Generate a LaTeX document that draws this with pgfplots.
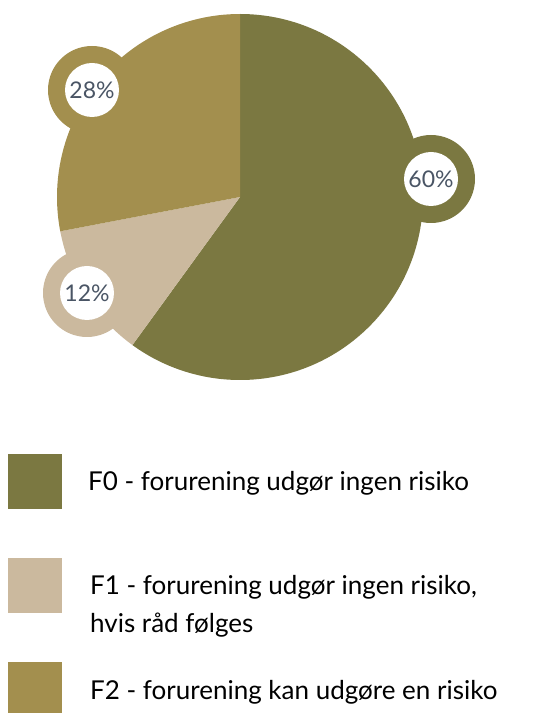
\documentclass[border=0pt]{standalone}
\usepackage{pgfplots}
\pgfplotsset{compat=1.18}
\usepackage{fontspec}
\setmainfont{Lato}
\definecolor{f0}{HTML}{7B7841}
\definecolor{f1}{HTML}{CBB99E}
\definecolor{f2}{HTML}{A38F4E}
\definecolor{lbl}{HTML}{4A5565}
% shares in percent
\def\vA{60}\def\vB{12}\def\vC{28}
\begin{document}
\begin{tikzpicture}
\pgfmathsetmacro\aA{90-3.6*\vA}
\pgfmathsetmacro\aB{\aA-3.6*\vB}
\pgfmathsetmacro\aC{\aB-3.6*\vC}
\begin{axis}[scale only axis, width=534pt, height=713pt,
  xmin=0, xmax=534, ymin=0, ymax=713, hide axis, clip=false]
\path (axis cs:0,0) rectangle (axis cs:534,713);
% pie slices
\fill[f0] (axis cs:240,516) -- ++(90:183pt) arc[start angle=90, end angle=\aA, radius=183pt] -- cycle;
\fill[f1] (axis cs:240,516) -- ++(\aA:183pt) arc[start angle=\aA, end angle=\aB, radius=183pt] -- cycle;
\fill[f2] (axis cs:240,516) -- ++(\aB:183pt) arc[start angle=\aB, end angle=\aC, radius=183pt] -- cycle;
% value badges
\fill[f0] (axis cs:431,534) circle[radius=44pt];
\fill[f1] (axis cs:87,420) circle[radius=44pt];
\fill[f2] (axis cs:92,623) circle[radius=44pt];
\fill[white] (axis cs:431,534) circle[radius=27pt];
\fill[white] (axis cs:87,420) circle[radius=27pt];
\fill[white] (axis cs:92,623) circle[radius=27pt];
\node[text=lbl, font=\fontsize{23}{27}\selectfont] at (axis cs:431,534) {\vA\%};
\node[text=lbl, font=\fontsize{23}{27}\selectfont] at (axis cs:87,420) {\vB\%};
\node[text=lbl, font=\fontsize{23}{27}\selectfont] at (axis cs:92,623) {\vC\%};
% legend
\fill[f0] (axis cs:8,204) rectangle (axis cs:62,259);
\fill[f1] (axis cs:8,100) rectangle (axis cs:62,155);
\fill[f2] (axis cs:8,0) rectangle (axis cs:62,51);
\node[anchor=base west, inner sep=0pt, font=\fontsize{26}{37.7}\selectfont] at (axis cs:88,222.3) {F0 - forurening udgør ingen risiko};
\node[anchor=base west, inner sep=0pt, font=\fontsize{26}{37.7}\selectfont] at (axis cs:90,118) {F1 - forurening udgør ingen risiko,};
\node[anchor=base west, inner sep=0pt, font=\fontsize{26}{37.7}\selectfont] at (axis cs:90,80.3) {hvis råd følges};
\node[anchor=base west, inner sep=0pt, font=\fontsize{26}{37.7}\selectfont] at (axis cs:90,13.7) {F2 - forurening kan udgøre en risiko};
\end{axis}
\end{tikzpicture}
\end{document}
